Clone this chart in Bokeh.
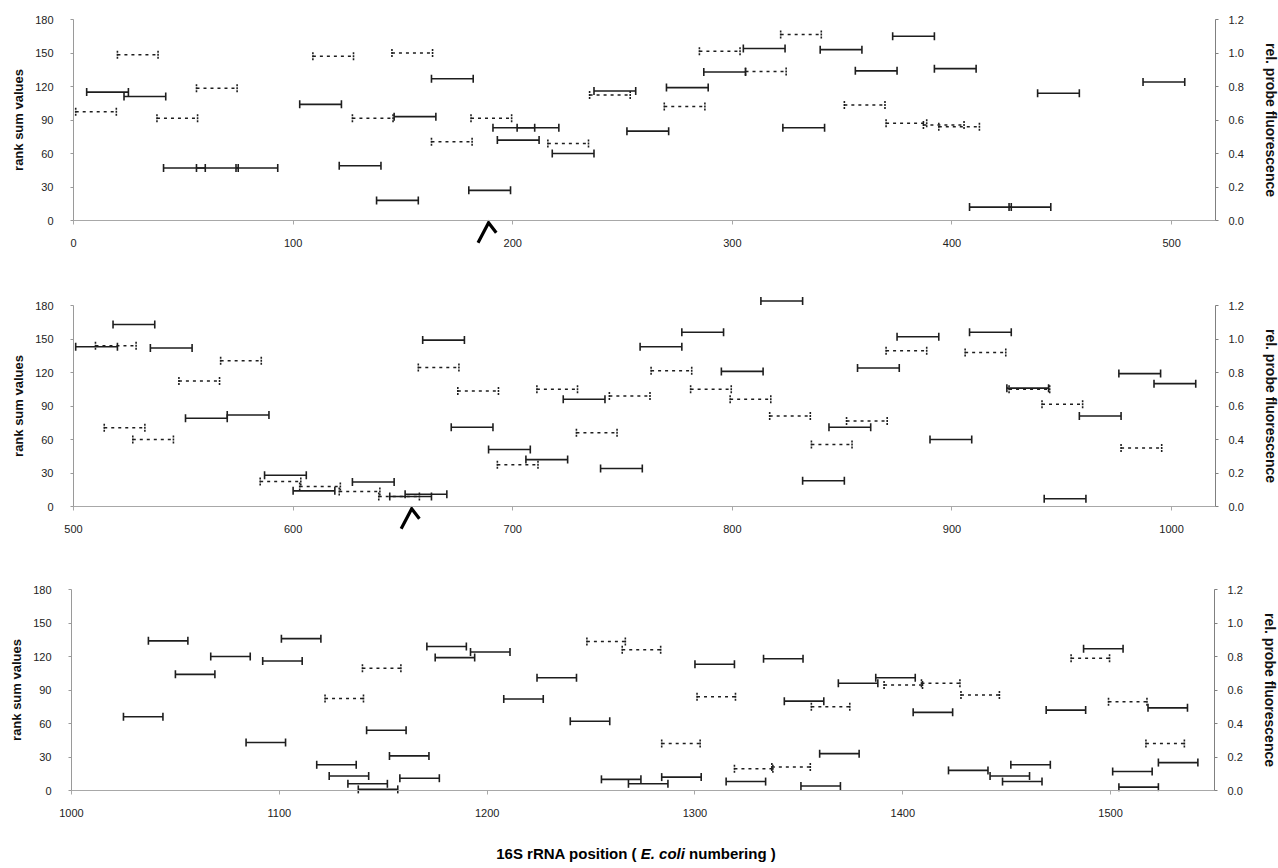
import numpy as np
from bokeh.plotting import figure
from bokeh.models import (Range1d, LinearAxis, FixedTicker, PrintfTickFormatter,
                          Div, ColumnDataSource)
from bokeh.layouts import column
from bokeh.embed import file_html
from bokeh.resources import INLINE

# ---------------- data ----------------
# panel 1 : positions 0-520
p1_rank_start = [6, 23, 41, 56, 74, 103, 121, 138, 146, 163, 180, 191, 193, 202, 218,
                 237, 252, 270, 287, 305, 323, 340, 356, 373, 392, 408, 426, 439, 487]
p1_rank_val = [115, 111, 47, 47, 47, 104, 49, 18, 93, 127, 27, 83, 72, 83, 60,
               116, 80, 119, 133, 154, 83, 153, 134, 165, 136, 12, 12, 114, 124]
p1_fluo_start = [1, 20, 38, 56, 109, 127, 145, 163, 181, 216, 235, 269, 285, 306, 322,
                 351, 370, 387, 394]
p1_fluo_val = [0.65, 0.99, 0.61, 0.79, 0.98, 0.61, 1.00, 0.47, 0.61, 0.46, 0.75, 0.68,
               1.01, 0.89, 1.11, 0.69, 0.58, 0.57, 0.56]
p1_marks = [189]

# panel 2 : positions 500-1020
p2_rank_start = [501, 518, 535, 551, 570, 587, 600, 627, 644, 651, 659, 672, 689, 706,
                 723, 740, 758, 777, 795, 813, 832, 844, 857, 875, 890, 908, 925, 942,
                 958, 976, 992]
p2_rank_val = [143, 163, 142, 79, 82, 28, 14, 22, 9, 11, 149, 71, 51, 42,
               96, 34, 143, 156, 121, 184, 23, 71, 124, 152, 60, 156, 106, 7,
               81, 119, 110]
p2_fluo_start = [510, 514, 527, 548, 567, 585, 603, 621, 639, 657, 675, 693, 711, 729,
                 744, 763, 781, 799, 817, 836, 852, 870, 906, 926, 941, 977]
p2_fluo_val = [0.96, 0.47, 0.40, 0.75, 0.87, 0.15, 0.12, 0.09, 0.06, 0.83, 0.69, 0.25,
               0.70, 0.44, 0.66, 0.81, 0.70, 0.64, 0.54, 0.37, 0.51, 0.93, 0.92, 0.70,
               0.61, 0.35]
p2_marks = [654]

# panel 3 : positions 1000-1550
p3_rank_start = [1025, 1037, 1050, 1067, 1084, 1092, 1101, 1118, 1124, 1133, 1138, 1142,
                 1153, 1158, 1171, 1175, 1192, 1208, 1224, 1240, 1255, 1268, 1284, 1300,
                 1315, 1333, 1343, 1351, 1360, 1369, 1387, 1405, 1422, 1442, 1448, 1452,
                 1469, 1487, 1501, 1504, 1518, 1523]
p3_rank_val = [66, 134, 104, 120, 43, 116, 136, 23, 13, 6, 1, 54,
               31, 11, 129, 119, 124, 82, 101, 62, 10, 6, 12, 113,
               8, 118, 80, 4, 33, 96, 101, 70, 18, 13, 8, 23,
               72, 127, 17, 3, 74, 25]
p3_fluo_start = [1122, 1140, 1248, 1265, 1284, 1301, 1319, 1337, 1356, 1391, 1409, 1428,
                 1481, 1499, 1517]
p3_fluo_val = [0.55, 0.73, 0.89, 0.84, 0.28, 0.56, 0.13, 0.14, 0.50, 0.63, 0.64, 0.57,
               0.79, 0.53, 0.28]
p3_marks = []

rank_ticks = [0, 30, 60, 90, 120, 150, 180]
fluo_ticks = [0.0, 0.2, 0.4, 0.6, 0.8, 1.0, 1.2]
p1_xticks = [0, 100, 200, 300, 400, 500]
p2_xticks = [500, 600, 700, 800, 900, 1000]
p3_xticks = [1000, 1100, 1200, 1300, 1400, 1500]

RANK_LEN = 19      # drawn probe length (nt)
FLUO_LEN = 18.5

FONT = "Liberation Sans"
W = 1278
PX_PER_UNIT = 201 / 180.0   # vertical pixels per rank-sum unit


def style_ticks(ax, color):
    ax.axis_line_color = color
    ax.axis_line_width = 1
    ax.major_tick_line_color = color
    ax.major_tick_in = 0
    ax.minor_tick_line_color = None
    ax.major_label_text_font = FONT
    ax.major_label_text_font_size = "11px"
    ax.major_label_text_color = "#222222"


def style_label(ax, text, size):
    ax.axis_label = text
    ax.axis_label_text_font = FONT
    ax.axis_label_text_font_style = "bold"
    ax.axis_label_text_font_size = size
    ax.axis_label_text_color = "#111111"


def make_panel(x0, x1, xticks, rs_start, rs_val, fl_start, fl_val, marks,
               fig_top, y180, fig_bottom, ax_left, ax_right):
    s = PX_PER_UNIT
    ppu = (ax_right - ax_left) / float(x1 - x0)
    xstart = x0 - ax_left / ppu
    xend = x1 + (W - ax_right) / ppu
    yhigh = 180 + (y180 - fig_top) / s
    ylow = (fig_bottom - (y180 + 201)) / s
    height = fig_bottom - fig_top
    p = figure(width=W, height=height, x_range=Range1d(xstart, xend),
               y_range=Range1d(-ylow, yhigh), output_backend="svg",
               toolbar_location=None, min_border=0, min_border_left=0,
               min_border_right=0, min_border_top=0, min_border_bottom=0)
    p.extra_y_ranges = {"fl": Range1d(-ylow / 150.0, yhigh / 150.0)}
    p.xgrid.visible = False
    p.ygrid.visible = False
    p.outline_line_color = None

    # bottom axis at y = 0
    xa = p.xaxis[0]
    xa.fixed_location = 0
    xa.bounds = (x0, x1)
    xa.ticker = FixedTicker(ticks=xticks)
    style_ticks(xa, "#a8a8a8")
    xa.major_tick_out = 4
    xa.major_label_standoff = 14

    # left axis at x = x0
    ya = p.yaxis[0]
    ya.fixed_location = x0
    ya.ticker = FixedTicker(ticks=rank_ticks)
    ya.bounds = (0, 180)
    style_ticks(ya, "#9a9a9a")
    ya.major_tick_out = 3
    ya.major_label_standoff = 17
    style_label(ya, "rank sum values", "13px")
    ya.axis_label_standoff = 6

    # right axis at x = x1
    ra = LinearAxis(y_range_name="fl", ticker=FixedTicker(ticks=fluo_ticks),
                    formatter=PrintfTickFormatter(format="%.1f"))
    ra.fixed_location = x1
    ra.bounds = (0, 1.2)
    style_ticks(ra, "#808080")
    ra.major_tick_out = 3
    ra.major_label_standoff = 10
    style_label(ra, "rel. probe fluorescence", "14px")
    ra.axis_label_standoff = 16
    p.add_layout(ra, "right")

    # rank sum probes (solid)
    rs_end = [v + RANK_LEN for v in rs_start]
    src = ColumnDataSource(dict(x0=rs_start, x1=rs_end, y=rs_val))
    p.segment(x0="x0", y0="y", x1="x1", y1="y", source=src,
              line_color="#1e1e1e", line_width=1.6)
    p.scatter(x=list(rs_start) + rs_end, y=list(rs_val) * 2, marker="dash",
              angle=np.pi / 2, size=8, line_color="#1e1e1e", line_width=1.6)

    # fluorescence probes (dashed)
    fl_end = [v + FLUO_LEN for v in fl_start]
    src2 = ColumnDataSource(dict(x0=fl_start, x1=fl_end, y=fl_val))
    p.segment(x0="x0", y0="y", x1="x1", y1="y", source=src2, y_range_name="fl",
              line_color="#1e1e1e", line_width=1.5, line_dash="3 4")
    p.scatter(x=list(fl_start) + fl_end, y=list(fl_val) * 2, y_range_name="fl",
              marker="dash", angle=np.pi / 2, size=8, line_color="#1e1e1e",
              line_width=1.6, line_dash="2 1")

    # caret marks below the axis
    if marks:
        xs = [[m - 4.8, m, m + 3.5] for m in marks]
        ys = [[-20, -2, -11] for _ in marks]
        p.multi_line(xs=xs, ys=ys, line_color="#000000", line_width=3.2,
                     line_join="miter")
    return p


f1 = make_panel(0, 520, p1_xticks, p1_rank_start, p1_rank_val, p1_fluo_start, p1_fluo_val,
                p1_marks, fig_top=0, y180=19, fig_bottom=262, ax_left=73, ax_right=1215)
f2 = make_panel(500, 1020, p2_xticks, p2_rank_start, p2_rank_val, p2_fluo_start, p2_fluo_val,
                p2_marks, fig_top=262, y180=305, fig_bottom=545, ax_left=73, ax_right=1215)
f3 = make_panel(1000, 1550, p3_xticks, p3_rank_start, p3_rank_val, p3_fluo_start, p3_fluo_val,
                p3_marks, fig_top=545, y180=589, fig_bottom=840, ax_left=71, ax_right=1214)

title = Div(text=("<div style=\"width:1262px;margin:0;padding:0;text-align:center;"
                  "font-family:'Liberation Sans',Arial,sans-serif;font-weight:bold;"
                  "font-size:15px;color:#000;line-height:18px;white-space:nowrap;\">"
                  "16S rRNA position ( <i>E. coli</i> numbering )</div>"),
            width=W, height=26)

layout = column(f1, f2, f3, title, spacing=0)
open("out.html", "w").write(file_html(layout, INLINE))
